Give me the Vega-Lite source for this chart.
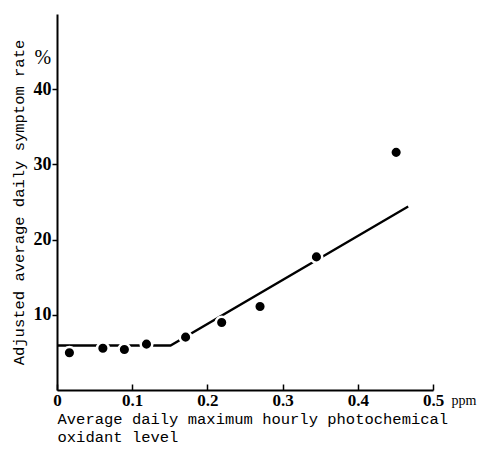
{
  "$schema": "https://vega.github.io/schema/vega-lite/v6.json",
  "width": 376,
  "height": 376,
  "autosize": {"type": "none"},
  "padding": {"left": 57, "top": 14, "right": 57, "bottom": 61},
  "background": "white",
  "config": {
    "view": {"stroke": null},
    "axis": {"grid": false, "domainColor": "black", "tickColor": "black", "labelColor": "black", "titleColor": "black", "labelFont": "Liberation Serif", "labelFontWeight": "bold"}
  },
  "datasets": {
    "points": [
      {"ppm": 0.0165, "rate": 4.95},
      {"ppm": 0.061, "rate": 5.56},
      {"ppm": 0.0896, "rate": 5.39},
      {"ppm": 0.119, "rate": 6.1},
      {"ppm": 0.171, "rate": 7.03},
      {"ppm": 0.219, "rate": 8.98},
      {"ppm": 0.27, "rate": 11.1},
      {"ppm": 0.345, "rate": 17.7},
      {"ppm": 0.451, "rate": 31.6}
    ],
    "fit": [
      {"ppm": 0, "rate": 5.92},
      {"ppm": 0.151, "rate": 5.92},
      {"ppm": 0.467, "rate": 24.4}
    ],
    "notes": [
      {"ppm": -0.019, "rate": 44.2, "label": "%", "size": 20},
      {"ppm": 0.541, "rate": -1.5, "label": "ppm", "size": 14}
    ]
  },
  "layer": [
    {
      "data": {"name": "fit"},
      "mark": {"type": "line", "color": "black", "strokeWidth": 2.3},
      "encoding": {
        "x": {
          "field": "ppm", "type": "quantitative",
          "scale": {"domain": [0, 0.5], "nice": false, "zero": false},
          "axis": {
            "values": [0, 0.1, 0.2, 0.3, 0.4, 0.5],
            "labelExpr": "datum.value == 0 ? '0' : format(datum.value, '.1f')",
            "tickSize": -6,
            "tickWidth": 1.5,
            "domainWidth": 2,
            "labelFont": "Liberation Serif",
            "labelFontWeight": "bold",
            "labelFontSize": 17,
            "labelPadding": 8,
            "labelFlush": false,
            "title": ["Average daily maximum hourly photochemical", "oxidant level"],
            "titleFont": "Liberation Mono",
            "titleFontSize": 15.5,
            "titleFontWeight": "normal",
            "titleLineHeight": 18,
            "titleAnchor": "start",
            "titleAlign": "left",
            "titlePadding": 3
          }
        },
        "y": {
          "field": "rate", "type": "quantitative",
          "scale": {"domain": [0, 50], "nice": false, "zero": false},
          "axis": {
            "values": [10, 20, 30, 40],
            "tickSize": 5,
            "tickWidth": 1.5,
            "domainWidth": 2,
            "labelFont": "Liberation Serif",
            "labelFontWeight": "bold",
            "labelFontSize": 18,
            "labelPadding": 1,
            "title": "Adjusted average daily symptom rate",
            "titleFont": "Liberation Mono",
            "titleFontSize": 15.5,
            "titleFontWeight": "normal",
            "titlePadding": 7
          }
        }
      }
    },
    {
      "data": {"name": "points"},
      "mark": {"type": "point", "filled": true, "color": "black", "stroke": "white", "strokeWidth": 2.5, "opacity": 1, "size": 135},
      "encoding": {
        "x": {"field": "ppm", "type": "quantitative"},
        "y": {"field": "rate", "type": "quantitative"}
      }
    },
    {
      "data": {"name": "notes"},
      "mark": {"type": "text", "font": "Liberation Serif", "color": "black", "baseline": "middle", "align": "center"},
      "encoding": {
        "x": {"field": "ppm", "type": "quantitative"},
        "y": {"field": "rate", "type": "quantitative"},
        "text": {"field": "label"},
        "size": {"field": "size", "type": "quantitative", "scale": null}
      }
    }
  ]
}
